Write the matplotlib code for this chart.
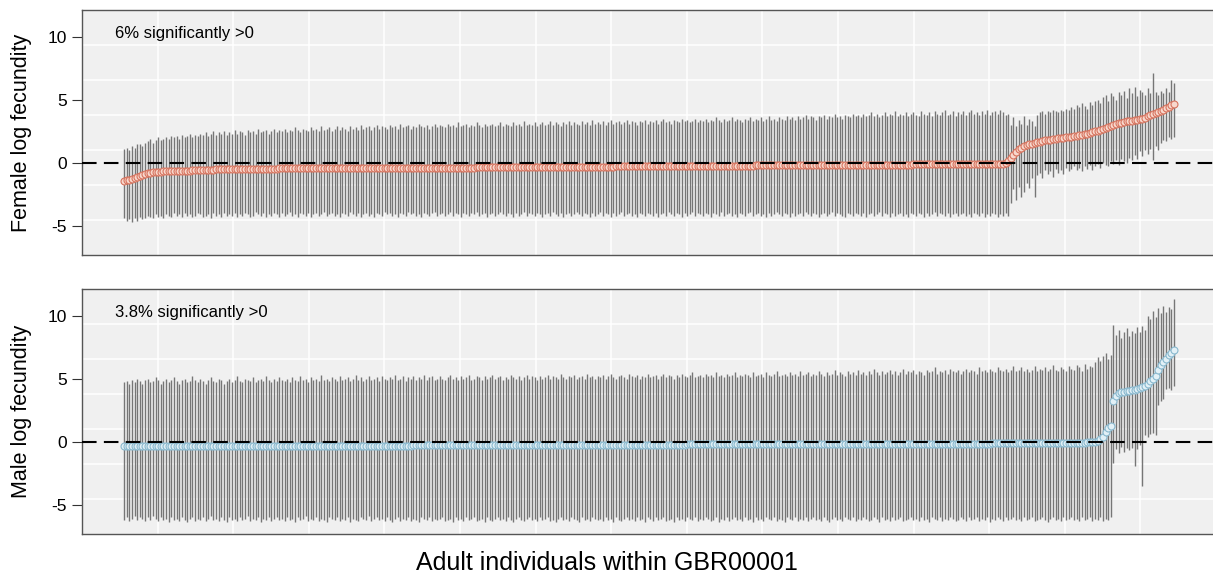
import numpy as np
import matplotlib
matplotlib.use('Agg')
import matplotlib.pyplot as plt

plt.rcParams['font.family'] = ['Liberation Sans', 'DejaVu Sans']
plt.rcParams['axes.unicode_minus'] = False

# per-individual estimates, sorted by posterior mean (female panel)
fem_mean = [
    -1.48, -1.41, -1.34, -1.27, -1.20, -1.12, -1.04, -0.96, -0.89, -0.82, -0.79, -0.77, -0.75, -0.73, -0.71, -0.69, -0.68, -0.67, -0.67, -0.66,
    -0.66, -0.65, -0.65, -0.64, -0.64, -0.63, -0.62, -0.62, -0.61, -0.60, -0.59, -0.58, -0.57, -0.56, -0.55, -0.54, -0.53, -0.53, -0.52, -0.52,
    -0.51, -0.50, -0.50, -0.50, -0.49, -0.49, -0.49, -0.49, -0.48, -0.48, -0.48, -0.48, -0.48, -0.47, -0.47, -0.47, -0.47, -0.47, -0.47, -0.46,
    -0.46, -0.46, -0.46, -0.46, -0.46, -0.46, -0.46, -0.46, -0.46, -0.46, -0.45, -0.45, -0.45, -0.45, -0.45, -0.45, -0.45, -0.45, -0.45, -0.45,
    -0.45, -0.45, -0.45, -0.45, -0.45, -0.44, -0.44, -0.44, -0.44, -0.44, -0.44, -0.44, -0.44, -0.44, -0.44, -0.43, -0.43, -0.43, -0.43, -0.43,
    -0.43, -0.43, -0.43, -0.43, -0.43, -0.42, -0.42, -0.42, -0.42, -0.42, -0.42, -0.42, -0.42, -0.42, -0.42, -0.41, -0.41, -0.41, -0.41, -0.41,
    -0.40, -0.40, -0.40, -0.40, -0.40, -0.40, -0.40, -0.39, -0.39, -0.39, -0.39, -0.39, -0.39, -0.39, -0.38, -0.38, -0.38, -0.38, -0.38, -0.38,
    -0.37, -0.37, -0.37, -0.37, -0.37, -0.37, -0.37, -0.36, -0.36, -0.36, -0.36, -0.36, -0.36, -0.36, -0.35, -0.35, -0.35, -0.35, -0.35, -0.35,
    -0.34, -0.34, -0.34, -0.34, -0.34, -0.34, -0.34, -0.33, -0.33, -0.33, -0.33, -0.33, -0.33, -0.33, -0.32, -0.32, -0.32, -0.32, -0.32, -0.32,
    -0.31, -0.31, -0.31, -0.31, -0.31, -0.31, -0.31, -0.30, -0.30, -0.30, -0.30, -0.30, -0.30, -0.30, -0.29, -0.29, -0.29, -0.29, -0.29, -0.29,
    -0.28, -0.28, -0.28, -0.28, -0.28, -0.28, -0.28, -0.27, -0.27, -0.27, -0.27, -0.27, -0.27, -0.27, -0.26, -0.26, -0.26, -0.26, -0.26, -0.26,
    -0.25, -0.25, -0.25, -0.25, -0.25, -0.25, -0.25, -0.24, -0.24, -0.24, -0.24, -0.24, -0.24, -0.24, -0.23, -0.23, -0.23, -0.23, -0.23, -0.23,
    -0.22, -0.22, -0.22, -0.22, -0.22, -0.22, -0.22, -0.21, -0.21, -0.21, -0.21, -0.21, -0.21, -0.21, -0.20, -0.20, -0.20, -0.20, -0.20, -0.20,
    -0.19, -0.19, -0.19, -0.19, -0.19, -0.19, -0.19, -0.18, -0.18, -0.18, -0.18, -0.18, -0.18, -0.18, -0.17, -0.17, -0.17, -0.17, -0.17, -0.17,
    -0.16, -0.16, -0.16, -0.16, -0.16, -0.16, -0.16, -0.16, -0.16, -0.16, -0.15, -0.15, -0.15, -0.15, -0.15, -0.15, -0.15, -0.15, -0.15, -0.15,
    -0.14, -0.14, -0.14, -0.14, -0.14, -0.14, -0.14, -0.14, -0.14, -0.14, -0.13, -0.13, -0.13, -0.13, -0.13, -0.13, -0.13, -0.13, -0.13, -0.13,
    -0.12, -0.12, -0.12, -0.12, -0.12, -0.11, -0.11, -0.11, -0.11, -0.11, -0.10, -0.10, -0.10, -0.09, -0.07, -0.03, 0.10, 0.35, 0.60, 0.85,
    1.05, 1.20, 1.30, 1.38, 1.45, 1.52, 1.58, 1.63, 1.68, 1.72, 1.76, 1.80, 1.83, 1.86, 1.89, 1.92, 1.95, 1.98, 2.00, 2.03,
    2.06, 2.09, 2.12, 2.16, 2.20, 2.25, 2.30, 2.36, 2.42, 2.48, 2.55, 2.62, 2.70, 2.78, 2.86, 2.93, 3.00, 3.06, 3.12, 3.17,
    3.22, 3.27, 3.31, 3.34, 3.37, 3.40, 3.44, 3.50, 3.58, 3.67, 3.76, 3.85, 3.94, 4.02, 4.10, 4.20, 4.32, 4.44, 4.55, 4.65,
]
fem_upper = [
    1.1, 1.2, 1.0, 1.3, 1.2, 1.5, 1.5, 1.3, 1.6, 1.7, 1.9, 1.6, 1.8, 2.0, 1.8, 1.9, 2.0, 1.9, 2.1, 2.0,
    2.1, 1.9, 2.2, 2.0, 2.1, 2.3, 2.0, 2.2, 2.1, 2.3, 2.2, 2.4, 2.1, 2.3, 2.5, 2.2, 2.4, 2.3, 2.5, 2.2,
    2.4, 2.3, 2.6, 2.3, 2.5, 2.4, 2.2, 2.6, 2.4, 2.5, 2.3, 2.7, 2.4, 2.5, 2.6, 2.3, 2.5, 2.7, 2.4, 2.6,
    2.5, 2.7, 2.4, 2.6, 2.5, 2.8, 2.6, 2.4, 2.7, 2.6, 2.5, 2.8, 2.6, 2.7, 2.5, 2.9, 2.6, 2.7, 2.8, 2.5,
    2.7, 2.9, 2.6, 2.8, 2.7, 2.5, 2.9, 2.7, 2.8, 2.6, 3.0, 2.7, 2.8, 2.9, 2.6, 2.8, 3.0, 2.7, 2.9, 2.8,
    2.7, 3.0, 2.8, 2.9, 2.7, 3.1, 2.8, 2.9, 3.0, 2.7, 2.9, 2.8, 3.1, 2.9, 2.8, 3.0, 2.7, 2.9, 3.1, 2.8,
    3.0, 2.9, 2.8, 3.1, 2.9, 3.0, 2.8, 3.2, 2.9, 3.0, 3.1, 2.8, 3.0, 2.9, 3.2, 3.0, 2.8, 3.1, 2.9, 3.0,
    3.1, 2.9, 3.0, 3.2, 2.9, 3.1, 3.0, 2.9, 3.2, 3.0, 3.1, 2.9, 3.3, 3.0, 3.1, 3.0, 3.2, 2.9, 3.1, 3.2,
    3.0, 3.1, 3.3, 3.0, 3.2, 3.1, 2.9, 3.2, 3.1, 3.3, 3.0, 3.2, 3.1, 3.0, 3.3, 3.1, 3.2, 3.0, 3.4, 3.1,
    3.2, 3.1, 3.3, 3.0, 3.2, 3.4, 3.1, 3.2, 3.3, 3.1, 3.2, 3.4, 3.1, 3.3, 3.2, 3.0, 3.3, 3.2, 3.4, 3.1,
    3.3, 3.2, 3.4, 3.1, 3.3, 3.5, 3.2, 3.3, 3.1, 3.4, 3.3, 3.2, 3.5, 3.3, 3.4, 3.2, 3.3, 3.5, 3.2, 3.4,
    3.3, 3.5, 3.2, 3.4, 3.3, 3.6, 3.4, 3.2, 3.5, 3.3, 3.4, 3.6, 3.3, 3.5, 3.4, 3.2, 3.5, 3.4, 3.6, 3.3,
    3.5, 3.4, 3.6, 3.3, 3.5, 3.7, 3.4, 3.5, 3.3, 3.6, 3.5, 3.4, 3.7, 3.5, 3.6, 3.4, 3.7, 3.5, 3.6, 3.8,
    3.5, 3.7, 3.6, 3.4, 3.7, 3.6, 3.8, 3.5, 3.7, 3.6, 3.9, 3.6, 3.7, 3.5, 3.8, 3.7, 3.6, 3.9, 3.7, 3.8,
    3.6, 3.9, 3.7, 3.8, 4.0, 3.7, 3.9, 3.6, 3.8, 4.0, 3.7, 3.9, 3.8, 4.1, 3.7, 3.9, 3.8, 4.0, 3.7, 3.9,
    4.0, 3.8, 3.7, 4.1, 3.9, 3.8, 4.0, 3.7, 4.1, 3.9, 3.8, 4.0, 4.2, 3.8, 3.9, 4.1, 3.7, 4.0, 3.9, 4.1,
    3.8, 4.0, 4.2, 3.9, 4.0, 3.8, 4.1, 3.9, 4.2, 3.8, 4.0, 4.1, 3.9, 4.2, 4.0, 3.8, 3.9, 3.0, 3.6, 2.9,
    3.4, 3.1, 3.7, 3.0, 3.5, 3.3, 2.9, 3.8, 4.0, 4.1, 3.9, 4.1, 4.0, 4.2, 4.1, 4.0, 4.2, 4.1, 4.3, 4.2,
    4.4, 4.3, 4.6, 4.4, 4.7, 4.5, 4.3, 4.8, 4.6, 4.9, 5.0, 4.7, 5.2, 5.4, 4.9, 5.5, 5.3, 5.0, 5.6, 5.4,
    5.7, 5.1, 5.9, 5.5, 6.0, 5.3, 5.8, 5.6, 5.4, 5.9, 5.5, 7.1, 5.6, 5.4, 5.7, 5.5, 5.9, 5.6, 6.6, 6.3,
]
fem_lower = [
    -4.4, -4.6, -4.5, -4.7, -4.4, -4.6, -4.3, -4.5, -4.4, -4.2, -4.3, -4.4, -4.1, -4.3, -4.2, -4.4, -4.1, -4.2, -4.3, -4.0,
    -4.2, -4.1, -4.3, -4.0, -4.2, -4.1, -4.3, -4.2, -4.0, -4.1, -4.3, -4.2, -4.1, -4.4, -4.0, -4.2, -4.1, -4.3, -4.0, -4.2,
    -4.1, -4.2, -4.0, -4.3, -4.1, -4.2, -4.0, -4.1, -4.3, -4.2, -3.9, -4.1, -4.2, -4.0, -4.3, -4.1, -4.2, -4.0, -4.1, -4.3,
    -4.0, -4.2, -4.1, -3.9, -4.2, -4.1, -4.3, -4.0, -4.1, -4.2, -4.0, -4.3, -4.1, -4.0, -4.2, -4.1, -3.9, -4.2, -4.1, -4.0,
    -4.2, -4.1, -4.3, -4.0, -4.1, -4.2, -3.9, -4.1, -4.2, -4.0, -4.3, -4.1, -4.0, -4.2, -4.1, -4.3, -4.0, -4.1, -4.2, -3.9,
    -4.1, -4.0, -4.2, -4.1, -4.3, -4.0, -4.1, -4.2, -3.9, -4.1, -4.0, -4.2, -4.1, -4.3, -4.0, -4.1, -4.2, -4.0, -3.9, -4.2,
    -4.1, -4.0, -4.2, -4.1, -3.9, -4.2, -4.0, -4.1, -4.3, -4.0, -4.1, -4.2, -4.0, -4.1, -3.9, -4.2, -4.1, -4.0, -4.3, -4.1,
    -4.0, -4.2, -4.1, -3.9, -4.1, -4.2, -4.0, -4.1, -4.3, -4.0, -4.2, -4.1, -3.9, -4.2, -4.0, -4.1, -4.2, -4.0, -4.1, -4.3,
    -4.1, -4.0, -4.2, -3.9, -4.1, -4.2, -4.0, -4.3, -4.1, -4.0, -4.2, -4.1, -3.9, -4.1, -4.2, -4.0, -4.1, -4.3, -4.0, -4.2,
    -4.1, -3.9, -4.2, -4.0, -4.1, -4.3, -4.0, -4.2, -4.1, -3.9, -4.2, -4.1, -4.0, -4.2, -4.1, -4.3, -4.0, -4.1, -4.2, -4.0,
    -4.1, -4.2, -4.0, -4.3, -4.1, -4.0, -4.2, -3.9, -4.1, -4.2, -4.0, -4.1, -4.3, -4.0, -4.2, -4.1, -3.9, -4.2, -4.0, -4.1,
    -4.2, -4.0, -4.1, -4.3, -4.0, -4.1, -4.2, -3.9, -4.2, -4.1, -4.0, -4.2, -4.1, -4.3, -4.0, -4.1, -4.2, -4.0, -3.9, -4.2,
    -4.1, -4.0, -4.2, -4.1, -4.3, -4.0, -4.2, -4.1, -3.9, -4.1, -4.2, -4.0, -4.1, -4.3, -4.0, -4.2, -4.1, -4.0, -4.2, -3.9,
    -4.1, -4.2, -4.0, -4.1, -4.3, -4.1, -4.0, -4.2, -4.1, -3.9, -4.2, -4.0, -4.1, -4.2, -4.3, -4.0, -4.1, -4.2, -4.0, -4.1,
    -4.2, -4.0, -4.3, -4.1, -4.0, -4.2, -4.1, -3.9, -4.2, -4.0, -4.1, -4.3, -4.0, -4.2, -4.1, -4.0, -4.2, -4.1, -4.3, -4.0,
    -4.1, -4.2, -4.0, -4.1, -4.3, -4.0, -4.2, -4.1, -3.9, -4.2, -4.0, -4.1, -4.2, -4.0, -4.3, -4.1, -4.0, -4.2, -4.1, -4.0,
    -4.2, -4.1, -4.3, -4.0, -4.1, -4.2, -4.0, -4.3, -4.1, -4.2, -4.0, -4.1, -4.3, -4.1, -4.2, -4.0, -4.2, -3.2, -2.1, -3.0,
    -1.9, -2.7, -2.3, -1.6, -2.0, -1.2, -2.7, -1.0, -0.8, -1.2, -0.6, -0.9, -0.7, -1.1, -0.5, -0.8, -0.6, -0.9, -0.4, -0.7,
    -0.5, -0.3, -0.6, -0.4, -0.7, -0.3, -0.5, -0.2, -0.6, -0.3, -0.1, -0.4, 0.0, -0.2, -0.3, 0.1, -0.1, 0.2, -0.2, 0.3,
    0.1, 0.0, 0.4, 0.2, 0.6, 0.3, 0.9, 0.5, 1.0, 0.7, 1.1, 0.2, 1.3, 1.0, 1.6, 1.8, 1.7, 2.0, 1.9, 2.0,
]

# male panel
male_mean = [
    -0.36, -0.36, -0.36, -0.36, -0.36, -0.36, -0.36, -0.36, -0.36, -0.36, -0.35, -0.35, -0.35, -0.35, -0.35, -0.35, -0.35, -0.35, -0.35, -0.35,
    -0.35, -0.35, -0.35, -0.35, -0.35, -0.35, -0.35, -0.35, -0.35, -0.35, -0.34, -0.34, -0.34, -0.34, -0.34, -0.34, -0.34, -0.34, -0.34, -0.34,
    -0.34, -0.34, -0.34, -0.34, -0.34, -0.34, -0.34, -0.34, -0.34, -0.34, -0.33, -0.33, -0.33, -0.33, -0.33, -0.33, -0.33, -0.33, -0.33, -0.33,
    -0.33, -0.33, -0.33, -0.33, -0.33, -0.33, -0.33, -0.33, -0.33, -0.33, -0.32, -0.32, -0.32, -0.32, -0.32, -0.32, -0.32, -0.32, -0.32, -0.32,
    -0.32, -0.32, -0.32, -0.32, -0.32, -0.32, -0.32, -0.32, -0.32, -0.32, -0.31, -0.31, -0.31, -0.31, -0.31, -0.31, -0.31, -0.31, -0.31, -0.31,
    -0.31, -0.31, -0.31, -0.31, -0.31, -0.31, -0.31, -0.31, -0.31, -0.31, -0.30, -0.30, -0.30, -0.30, -0.30, -0.30, -0.30, -0.30, -0.30, -0.30,
    -0.30, -0.30, -0.30, -0.30, -0.30, -0.30, -0.30, -0.30, -0.30, -0.30, -0.29, -0.29, -0.29, -0.29, -0.29, -0.29, -0.29, -0.29, -0.29, -0.29,
    -0.29, -0.29, -0.29, -0.29, -0.29, -0.29, -0.29, -0.29, -0.29, -0.29, -0.28, -0.28, -0.28, -0.28, -0.28, -0.28, -0.28, -0.28, -0.28, -0.28,
    -0.28, -0.28, -0.28, -0.28, -0.28, -0.28, -0.28, -0.27, -0.27, -0.27, -0.27, -0.27, -0.27, -0.27, -0.26, -0.26, -0.26, -0.26, -0.26, -0.26,
    -0.26, -0.26, -0.26, -0.26, -0.26, -0.26, -0.26, -0.25, -0.25, -0.25, -0.25, -0.25, -0.25, -0.25, -0.24, -0.24, -0.24, -0.24, -0.24, -0.24,
    -0.24, -0.24, -0.24, -0.24, -0.24, -0.24, -0.24, -0.23, -0.23, -0.23, -0.23, -0.23, -0.23, -0.23, -0.22, -0.22, -0.22, -0.22, -0.22, -0.22,
    -0.22, -0.22, -0.22, -0.22, -0.22, -0.22, -0.22, -0.21, -0.21, -0.21, -0.21, -0.21, -0.21, -0.21, -0.20, -0.20, -0.20, -0.20, -0.20, -0.20,
    -0.20, -0.20, -0.20, -0.20, -0.20, -0.20, -0.20, -0.20, -0.20, -0.20, -0.19, -0.19, -0.19, -0.19, -0.19, -0.19, -0.19, -0.19, -0.19, -0.19,
    -0.19, -0.19, -0.19, -0.19, -0.19, -0.19, -0.19, -0.19, -0.19, -0.19, -0.18, -0.18, -0.18, -0.18, -0.18, -0.18, -0.18, -0.18, -0.18, -0.18,
    -0.18, -0.18, -0.18, -0.18, -0.18, -0.18, -0.18, -0.18, -0.18, -0.18, -0.17, -0.17, -0.17, -0.17, -0.17, -0.17, -0.17, -0.17, -0.17, -0.17,
    -0.17, -0.17, -0.17, -0.17, -0.17, -0.17, -0.17, -0.17, -0.17, -0.17, -0.16, -0.16, -0.16, -0.16, -0.16, -0.16, -0.16, -0.16, -0.16, -0.16,
    -0.16, -0.16, -0.16, -0.16, -0.16, -0.15, -0.15, -0.15, -0.15, -0.15, -0.14, -0.14, -0.14, -0.14, -0.14, -0.13, -0.13, -0.13, -0.13, -0.13,
    -0.13, -0.13, -0.13, -0.13, -0.13, -0.12, -0.12, -0.12, -0.12, -0.12, -0.11, -0.11, -0.11, -0.11, -0.11, -0.10, -0.10, -0.10, -0.10, -0.10,
    -0.10, -0.09, -0.09, -0.08, -0.08, -0.07, -0.06, -0.05, -0.03, 0.00, 0.05, 0.20, 0.40, 0.75, 1.05, 1.25, 3.20, 3.65, 3.85, 3.92,
    3.97, 4.00, 4.04, 4.08, 4.13, 4.18, 4.25, 4.35, 4.45, 4.60, 4.80, 5.00, 5.25, 5.70, 6.05, 6.35, 6.60, 6.85, 7.05, 7.30,
]
male_upper = [
    4.7, 4.8, 4.6, 4.9, 4.7, 5.0, 4.8, 4.6, 4.9, 5.0, 4.7, 4.8, 5.1, 4.9, 4.6, 4.8, 5.0, 4.7, 4.9, 5.1,
    4.8, 4.6, 4.9, 5.0, 4.7, 4.8, 5.2, 4.9, 4.7, 5.0, 4.8, 4.6, 4.9, 5.1, 4.8, 4.7, 5.0, 4.9, 4.6, 4.8,
    5.0, 4.7, 4.9, 5.2, 4.8, 4.7, 5.0, 4.9, 4.8, 5.1, 4.7, 4.9, 5.0, 4.8, 5.2, 4.9, 4.7, 5.0, 4.8, 5.1,
    4.9, 4.8, 5.0, 4.7, 5.1, 4.9, 4.8, 5.2, 4.9, 5.0, 4.7, 5.1, 4.9, 5.0, 4.8, 5.3, 4.9, 5.0, 4.8, 5.1,
    5.0, 4.8, 5.2, 4.9, 5.0, 5.1, 4.8, 5.0, 5.3, 4.9, 5.1, 4.8, 5.0, 5.2, 4.9, 5.0, 5.1, 4.8, 5.2, 5.0,
    4.9, 5.1, 5.0, 5.3, 4.9, 5.0, 5.2, 4.8, 5.1, 5.0, 5.2, 4.9, 5.1, 5.0, 5.3, 4.9, 5.1, 5.2, 4.9, 5.0,
    5.2, 5.0, 4.9, 5.1, 5.3, 5.0, 5.1, 4.9, 5.2, 5.0, 5.1, 5.3, 4.9, 5.0, 5.2, 5.1, 4.9, 5.2, 5.0, 5.1,
    5.3, 5.0, 5.1, 5.2, 4.9, 5.1, 5.0, 5.3, 5.1, 5.0, 5.2, 4.9, 5.1, 5.3, 5.0, 5.2, 5.1, 4.9, 5.2, 5.0,
    5.1, 5.3, 5.0, 5.2, 5.1, 5.0, 5.4, 5.1, 5.0, 5.2, 5.1, 5.3, 5.0, 5.1, 5.2, 5.0, 5.4, 5.1, 5.2, 5.0,
    5.2, 5.1, 5.3, 5.0, 5.2, 5.4, 5.1, 5.0, 5.2, 5.3, 5.1, 5.0, 5.4, 5.2, 5.1, 5.3, 5.0, 5.2, 5.1, 5.4,
    5.1, 5.2, 5.3, 5.0, 5.2, 5.4, 5.1, 5.3, 5.2, 5.0, 5.3, 5.1, 5.4, 5.2, 5.1, 5.3, 5.5, 5.1, 5.2, 5.3,
    5.1, 5.4, 5.2, 5.3, 5.1, 5.5, 5.2, 5.3, 5.1, 5.4, 5.2, 5.3, 5.5, 5.1, 5.3, 5.2, 5.4, 5.3, 5.1, 5.5,
    5.2, 5.3, 5.4, 5.1, 5.5, 5.3, 5.2, 5.4, 5.6, 5.2, 5.3, 5.4, 5.2, 5.5, 5.3, 5.4, 5.2, 5.6, 5.3, 5.4,
    5.5, 5.2, 5.4, 5.3, 5.6, 5.4, 5.2, 5.5, 5.3, 5.4, 5.7, 5.3, 5.5, 5.4, 5.2, 5.6, 5.4, 5.5, 5.3, 5.7,
    5.4, 5.5, 5.3, 5.6, 5.4, 5.8, 5.5, 5.3, 5.6, 5.4, 5.5, 5.7, 5.4, 5.6, 5.3, 5.5, 5.8, 5.4, 5.6, 5.5,
    5.7, 5.4, 5.6, 5.5, 5.3, 5.7, 5.5, 5.6, 5.9, 5.4, 5.6, 5.5, 5.7, 5.4, 5.8, 5.6, 5.5, 5.7, 5.4, 5.6,
    5.8, 5.5, 5.7, 5.6, 5.4, 5.9, 5.6, 5.7, 5.5, 5.8, 5.6, 5.5, 5.9, 5.7, 5.6, 5.8, 5.5, 5.7, 6.0, 5.6,
    5.7, 5.9, 5.6, 5.8, 5.5, 5.7, 6.0, 5.6, 5.8, 5.7, 5.9, 5.6, 5.8, 6.1, 5.7, 5.6, 5.9, 5.8, 5.6, 6.0,
    5.8, 5.7, 6.1, 5.9, 5.6, 6.2, 5.8, 6.0, 5.9, 6.3, 6.7, 6.4, 6.8, 7.0, 6.6, 6.9, 9.3, 8.5, 8.9, 8.2,
    8.7, 9.0, 8.4, 8.8, 8.6, 9.1, 8.7, 9.2, 8.9, 10.0, 9.7, 10.4, 9.9, 10.6, 10.2, 10.8, 10.3, 10.7, 10.5, 11.3,
]
male_lower = [
    -6.2, -6.0, -6.3, -6.1, -5.9, -6.2, -6.0, -6.1, -6.3, -6.0, -6.2, -5.9, -6.1, -6.3, -6.0, -6.2, -6.1, -6.4, -6.0, -6.2,
    -6.1, -6.3, -6.0, -6.2, -6.4, -6.1, -6.0, -6.3, -6.1, -6.2, -6.0, -6.3, -6.1, -5.9, -6.2, -6.1, -6.3, -6.0, -6.2, -6.4,
    -6.0, -6.2, -6.1, -6.3, -6.0, -6.2, -6.1, -5.9, -6.3, -6.1, -6.2, -6.0, -6.4, -6.1, -6.2, -6.0, -6.3, -6.1, -6.0, -6.2,
    -6.1, -6.3, -6.0, -6.2, -6.1, -6.4, -6.0, -6.2, -6.1, -5.9, -6.3, -6.1, -6.2, -6.0, -6.3, -6.1, -6.2, -6.4, -6.0, -6.1,
    -6.2, -6.0, -6.3, -6.1, -6.2, -6.0, -6.4, -6.1, -6.2, -6.3, -6.0, -6.1, -6.2, -5.9, -6.3, -6.1, -6.0, -6.2, -6.1, -6.3,
    -6.0, -6.2, -6.4, -6.1, -6.0, -6.3, -6.1, -6.2, -6.0, -6.3, -6.1, -6.2, -6.4, -6.0, -6.1, -6.2, -6.0, -6.3, -6.1, -6.2,
    -6.1, -6.0, -6.3, -6.2, -6.1, -6.4, -6.0, -6.2, -6.1, -6.3, -6.0, -6.2, -6.1, -6.0, -6.3, -6.2, -6.1, -6.4, -6.0, -6.2,
    -6.3, -6.1, -6.0, -6.2, -6.1, -6.3, -6.0, -6.2, -6.4, -6.1, -6.0, -6.2, -6.3, -6.1, -6.0, -6.2, -6.1, -6.3, -6.0, -6.2,
    -6.1, -6.0, -6.3, -6.2, -6.4, -6.1, -6.0, -6.2, -6.1, -6.3, -6.0, -6.1, -6.2, -6.4, -6.0, -6.2, -6.1, -6.3, -6.0, -6.1,
    -6.2, -6.1, -6.3, -6.0, -6.2, -6.1, -6.4, -6.0, -6.2, -6.3, -6.1, -6.0, -6.2, -6.1, -6.3, -6.0, -6.2, -6.1, -6.4, -6.0,
    -6.1, -6.3, -6.0, -6.2, -6.1, -6.0, -6.3, -6.2, -6.1, -6.4, -6.0, -6.2, -6.1, -6.3, -6.0, -6.1, -6.2, -6.0, -6.3, -6.1,
    -6.2, -6.0, -6.1, -6.3, -6.2, -6.0, -6.4, -6.1, -6.2, -6.0, -6.3, -6.1, -6.0, -6.2, -6.1, -6.3, -6.0, -6.2, -6.1, -6.4,
    -6.0, -6.2, -6.1, -6.3, -6.0, -6.1, -6.2, -6.0, -6.3, -6.1, -6.2, -6.4, -6.0, -6.1, -6.2, -6.0, -6.3, -6.1, -6.2, -6.0,
    -6.3, -6.1, -6.0, -6.2, -6.1, -6.3, -6.0, -6.2, -6.4, -6.1, -6.0, -6.2, -6.1, -6.3, -6.0, -6.1, -6.2, -6.0, -6.3, -6.1,
    -6.2, -6.0, -6.1, -6.3, -6.2, -6.0, -6.1, -6.4, -6.0, -6.2, -6.1, -6.3, -6.0, -6.2, -6.1, -6.0, -6.3, -6.2, -6.1, -6.0,
    -6.2, -6.1, -6.3, -6.0, -6.2, -6.1, -6.4, -6.0, -6.1, -6.2, -6.0, -6.3, -6.1, -6.2, -6.0, -6.1, -6.3, -6.2, -6.0, -6.1,
    -6.3, -6.0, -6.2, -6.1, -6.0, -6.3, -6.1, -6.2, -6.0, -6.4, -6.1, -6.2, -6.0, -6.1, -6.3, -6.0, -6.2, -6.1, -6.0, -6.2,
    -6.1, -6.3, -6.0, -6.2, -6.1, -6.0, -6.3, -6.2, -6.1, -6.0, -6.2, -6.4, -6.1, -6.0, -6.2, -6.1, -6.3, -6.0, -6.2, -6.1,
    -6.0, -6.2, -6.1, -6.3, -6.0, -6.2, -6.1, -6.0, -6.3, -6.1, -6.2, -6.0, -6.3, -6.1, -6.2, -6.0, -1.7, -0.6, -0.9, -0.4,
    -0.8, -0.5, -0.7, -0.5, -1.9, -0.6, -0.3, -3.5, 0.5, 0.4, 0.6, 0.7, 0.5, 2.9, 3.2, 3.4, 4.2, 4.3, 4.1, 4.4,
]

panels = [
    (fem_mean, fem_lower, fem_upper, 'Female log fecundity', '6% significantly >0', '#F8D8CD', '#D6735E'),
    (male_mean, male_lower, male_upper, 'Male log fecundity', '3.8% significantly >0', '#E2F0F6', '#88B8CE'),
]

W, H = 1213, 586
fig = plt.figure(figsize=(W / 100, H / 100), dpi=100)

# axes boxes in pixels: left, top, right, bottom
boxes = [(82, 10, 1216, 255), (82, 289, 1216, 534)]

for (mean, lo, hi, ylab, note, face, edge), (l, t, r, b) in zip(panels, boxes):
    ax = fig.add_axes([l / W, 1 - b / H, (r - l) / W, (b - t) / H])
    n = min(len(mean), len(lo), len(hi))
    x = np.arange(1, n + 1)

    pad = 0.04 * (n - 1)
    x0, x1 = 1 - pad, n + pad
    y0, y1 = -7.33, 12.12
    ax.set_xlim(x0, x1)
    ax.set_ylim(y0, y1)
    ax.set_facecolor('#F0F0F0')

    # evenly spaced white grid, 15 x 7 cells
    for gx in np.linspace(x0, x1, 16)[1:-1]:
        ax.axvline(gx, color='white', lw=1.1, zorder=1)
    for gy in np.linspace(y0, y1, 8)[1:-1]:
        ax.axhline(gy, color='white', lw=1.1, zorder=1)

    ax.vlines(x, lo[:n], hi[:n], color='#767676', lw=1.0, zorder=2)
    ax.plot(x, mean[:n], 'o', ms=5, mfc=face, mec=edge, mew=0.8, zorder=3)
    ax.axhline(0, color='black', lw=1.5, dashes=(7, 3.5), zorder=4)

    ax.text(0.029, 0.904, note, transform=ax.transAxes, fontsize=12, va='center', ha='left')

    ax.set_xticks([])
    ax.set_yticks([-5, 0, 5, 10])
    ax.tick_params(axis='y', length=7, width=0.8, labelsize=12.5, pad=4, color='#333333')
    for s in ax.spines.values():
        s.set_color('#555555')
        s.set_linewidth(1.0)

    fig.text(22 / W, 1 - (t + b) / 2 / H, ylab, rotation=90, fontsize=15.5, ha='center', va='center')

fig.text(0.5, 1 - 563 / H, 'Adult individuals within GBR00001', fontsize=18, ha='center', va='center')

plt.savefig('out.png', dpi=100)
